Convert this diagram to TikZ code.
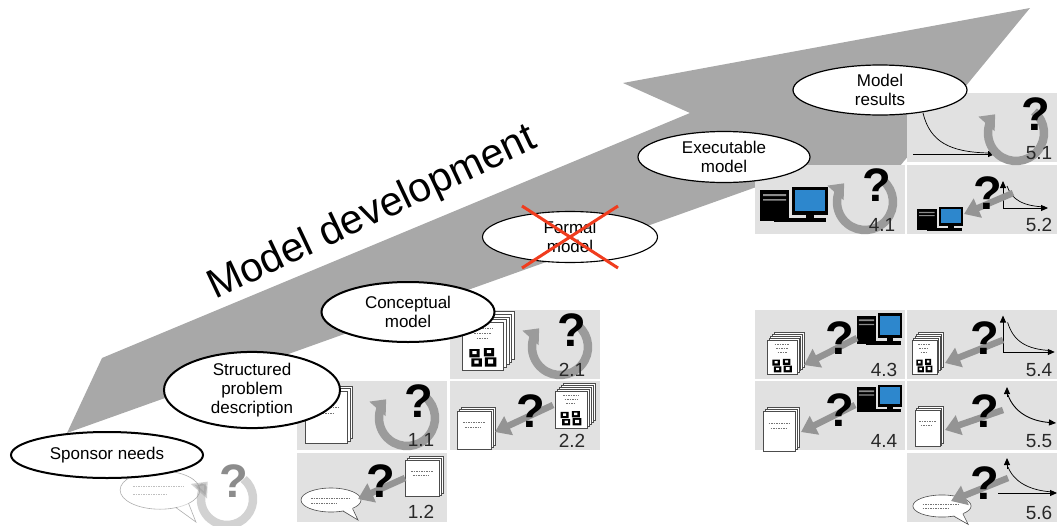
\documentclass[tikz,border=0pt]{standalone}
\usepackage{fontspec}
\setmainfont{Liberation Sans}
\usetikzlibrary{shapes.geometric,arrows.meta}
\definecolor{bandgray}{RGB}{168,168,168}
\definecolor{cellgray}{RGB}{225,225,225}
\definecolor{ringgray}{RGB}{155,155,155}
\definecolor{flowgray}{RGB}{148,148,148}
\definecolor{numgray}{RGB}{40,40,40}
\definecolor{screenblue}{RGB}{45,135,205}
\definecolor{crossred}{RGB}{240,60,30}
\newcommand\stagefont{\fontsize{17}{19}\selectfont}
\newcommand\numfont{\fontsize{19}{19}\selectfont}
\newcommand\qmfont{\fontsize{47}{47}\selectfont\bfseries}
\newcommand\titlefont{\fontsize{41}{41}\selectfont}
\tikzset{%
	stagenode/.style={ellipse, draw=black, line width=2pt, fill=white, inner sep=0pt, align=center, font=\stagefont},
	cellnode/.style={rectangle, fill=cellgray, anchor=north west, inner sep=0pt, minimum width=150pt, minimum height=69pt},
	numnode/.style={anchor=base east, inner sep=0pt, text=numgray, font=\numfont},
	qnode/.style={inner sep=0pt, font=\qmfont},
	ring/.style={draw=ringgray, line width=8.5pt, -{Triangle[width=21pt,length=13pt]}},
	flow/.style={draw=flowgray, line width=6.5pt, -{Triangle[width=20pt,length=15pt]}},
	axis/.style={draw=black, line width=0.9pt, -{Triangle[width=6pt,length=7pt]}},
	curve/.style={draw=black, line width=0.7pt},
	sheet/.style={fill=white, draw=black!70, line width=0.6pt},
	scrib/.style={draw=black!55, line width=0.8pt, dash pattern=on 1.5pt off 1pt},
	cross/.style={draw=crossred, line width=3pt},
	pics/paper/.style={code={
		\foreach \k in {2,1}
			\path[sheet] (2*\k,-2*\k) rectangle ++(34,42);
		\path[sheet] (0,0) rectangle (34,42);
		\path[scrib] (6,13) -- (28,13) (8,18) -- (24,18);
	}},
	pics/folder/.style={code={
		\foreach \k in {4,3,2,1}
			\path[sheet] (2.5*\k,-2.5*\k) rectangle ++(40,46);
		\path[sheet] (0,0) rectangle (40,46);
		\path[scrib] (10,6) -- (30,6) (12,11) -- (28,11) (14,16) -- (26,16);
		\fill[black] (7,26) rectangle (17,34) (21,25) rectangle (31,33) (9,35) rectangle (19,43) (22,34) rectangle (33,43);
		\fill[white] (10,28) rectangle (14,31) (24,27) rectangle (28,30) (12,37) rectangle (16,40) (25,36) rectangle (30,40);
	}},
	pics/pc/.style={code={
		\fill[black] (0,3) rectangle (29,34);
		\fill[black!45] (3,7) rectangle (26,9) (3,12) rectangle (26,13.5);
		\fill[black] (14,31) rectangle (66,35);
		\fill[black] (46,27) rectangle (54,31);
		\fill[black] (32,0) rectangle (68,28);
		\fill[screenblue] (35,3) rectangle (65,24);
	}},
	pics/chart/.style={code={
		\draw[axis] (0,0) -- (0,-27);
		\draw[axis] (0,0) -- (45,0);
		\draw[curve] (4,-22) .. controls (9,-8) and (20,-2) .. (42,-1);
	}},
	pics/cycle/.style={code={
		\draw[ring] (-50:28) arc[start angle=-50, end angle=222, radius=28];
	}},
	pics/bubble/.style={code={
		\path[sheet] (0,0) ellipse[x radius=30, y radius=12];
		\fill[white] (12,10) -- (27,20) -- (21.5,7.5) -- cycle;
		\draw[black!70, line width=0.6pt] (12,11) -- (27,20) -- (21.5,8.4);
		\path[scrib] (-20,-2) -- (18,-2) (-20,3) -- (6,3);
	}}
}

\begin{document}
\begin{tikzpicture}[x=1pt, y=-1pt]
	\useasboundingbox (0,0) rectangle (1057,525);
	\fill[bandgray] (67,433) -- (102,358) -- (690,113) -- (623,83) -- (1030,8) -- (872,200) -- (790,175) -- cycle;

	\node[cellnode] (c21) at (450,310) {};
	\node[cellnode] (c11) at (297,381) {};
	\node[cellnode] (c22) at (450,381) {};
	\node[cellnode] (c12) at (297,453) {};
	\node[cellnode] (c51) at (907,93) {};
	\node[cellnode] (c41) at (755,165) {};
	\node[cellnode] (c52) at (907,165) {};
	\node[cellnode] (c43) at (755,310) {};
	\node[cellnode] (c54) at (907,310) {};
	\node[cellnode] (c44) at (755,381) {};
	\node[cellnode] (c55) at (907,381) {};
	\node[cellnode] (c56) at (907,453) {};

	% sponsor icons, faded
	\begin{scope}[opacity=0.45]
		\pic[xscale=1.33, yscale=1.6] at (160,490) {bubble};
		\pic[scale=0.93] at (227,499) {cycle};
		\node[qnode] (q00) at (234,481) {?};
	\end{scope}

	% 1.1
	\pic[scale=1.25] at (305,391) {paper};
	\pic at ([shift={(110,37)}]c11.north west) {cycle};
	\node[qnode] (q11) at ([shift={(122,20)}]c11.north west) {?};
	\node[numnode] (n11) at ([shift={(-13,-4)}]c11.south east) {1.1};

	% 1.2
	\pic at (331,500) {bubble};
	\pic[yscale=0.87] at (405,460) {paper};
	\draw[flow] (405,478) -- (358,499);
	\node[qnode] (q12) at (381,481) {?};
	\node[numnode] (n12) at ([shift={(-13,-4)}]c12.south east) {1.2};

	% 2.1
	\pic[scale=1.04] at (462,322) {folder};
	\pic at ([shift={(110,37)}]c21.north west) {cycle};
	\node[qnode] (q21) at ([shift={(122,20)}]c21.north west) {?};
	\node[numnode] (n21) at ([shift={(-15,-3)}]c21.south east) {2.1};

	% 2.2
	\pic[yscale=0.9] at (457,411) {paper};
	\pic[scale=0.8] at (555,391) {folder};
	\draw[flow] (553,405) -- (495,432);
	\node[qnode] (q22) at (531,411) {?};
	\node[numnode] (n22) at ([shift={(-15,-3)}]c22.south east) {2.2};

	% 4.1
	\pic at (760,187) {pc};
	\pic at ([shift={(110,37)}]c41.north west) {cycle};
	\node[qnode] (q41) at ([shift={(122,20)}]c41.north west) {?};
	\node[numnode] (n41) at ([shift={(-10,-3)}]c41.south east) {4.1};

	% 5.1
	\draw[axis] (913,154) -- (995,154);
	\draw[curve] (923,113) .. controls (930,142) and (950,152) .. (988,153);
	\pic at (1016,133) {cycle};
	\node[qnode] (q51) at (1036,114) {?};
	\node[numnode] (n51) at ([shift={(-5,-3)}]c51.south east) {5.1};

	% 5.2
	\pic[scale=0.68] at (917,207) {pc};
	\pic at (1003,208) {chart};
	\draw[flow] (1013,193) -- (964,214);
	\node[qnode] (q52) at (988,193) {?};
	\node[numnode] (n52) at ([shift={(-5,-3)}]c52.south east) {5.2};

	% 4.3
	\pic[scale=0.75] at (767,340) {folder};
	\pic[xscale=0.66, yscale=0.9] at (857,313) {pc};
	\draw[flow] (857,338) -- (804,365);
	\node[qnode] (q43) at (840,338) {?};
	\node[numnode] (n43) at ([shift={(-8,-3)}]c43.south east) {4.3};

	% 5.4
	\pic[xscale=0.62, yscale=0.75] at (912,340) {folder};
	\pic[xscale=1.15, yscale=1.35] at (1003,352) {chart};
	\draw[flow] (1003,340) -- (945,363);
	\node[qnode] (q54) at (985,338) {?};
	\node[numnode] (n54) at ([shift={(-5,-3)}]c54.south east) {5.4};

	% 4.4
	\pic[scale=0.95] at (763,411) {paper};
	\pic[xscale=0.66, yscale=0.78] at (857,385) {pc};
	\draw[flow] (855,405) -- (801,432);
	\node[qnode] (q44) at (840,410) {?};
	\node[numnode] (n44) at ([shift={(-8,-3)}]c44.south east) {4.4};

	% 5.5
	\pic[xscale=0.74, yscale=0.87] at (915,410) {paper};
	\draw[axis] (1007,397) -- (1007,387);
	\draw[axis] (1008,395) .. controls (1014,412) and (1030,421) .. (1056,423);
	\draw[flow] (1003,410) -- (945,430);
	\node[qnode] (q55) at (985,411) {?};
	\node[numnode] (n55) at ([shift={(-5,-3)}]c55.south east) {5.5};

	% 5.6
	\pic[xscale=0.97, yscale=0.92] at (942,506) {bubble};
	\draw[axis] (1007,469) -- (1007,458);
	\draw[axis] (998,493) -- (1057,493);
	\draw[curve] (1008,467) .. controls (1014,482) and (1030,491) .. (1054,492);
	\draw[flow] (1008,478) -- (951,501);
	\node[qnode] (q56) at (985,483) {?};
	\node[numnode] (n56) at ([shift={(-5,-3)}]c56.south east) {5.6};

	% stages along the band
	\node[stagenode, minimum width=192pt, minimum height=46pt] (sponsor) at (107,455) {Sponsor needs};
	\node[stagenode, minimum width=176pt, minimum height=74pt] (spd) at (252,390) {Structured\\problem\\description};
	\node[stagenode, minimum width=173pt, minimum height=60pt] (concept) at (408,312) {Conceptual\\model};
	\node[stagenode, line width=1.1pt, minimum width=175pt, minimum height=51pt] (formal) at (570,237) {Formal\\model};
	\node[stagenode, line width=1.2pt, minimum width=172pt, minimum height=51pt] (exec) at (724,157) {Executable\\model};
	\node[stagenode, line width=1.2pt, minimum width=174pt, minimum height=50pt] (results) at (880,90) {Model\\results};

	\draw[cross] ([shift={(-48,-31)}]formal.center) -- ([shift={(48,31)}]formal.center);
	\draw[cross] ([shift={(-48,31)}]formal.center) -- ([shift={(48,-31)}]formal.center);

	\node[rotate=25.3, anchor=base west, inner sep=0pt, font=\titlefont] (devel) at (215,300) {Model development};
\end{tikzpicture}
\end{document}
